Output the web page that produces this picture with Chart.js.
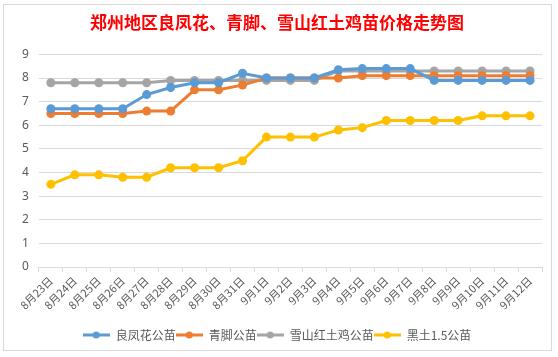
<!DOCTYPE html>
<html><head><meta charset="utf-8">
<script src="https://cdn.jsdelivr.net/npm/chart.js@4.4.1/dist/chart.umd.min.js"></script>
<style>
html,body{margin:0;padding:0;background:#fff;}
#wrap{position:absolute;left:0;top:0;width:558px;height:357px;}
#frame{position:absolute;left:3px;top:4px;width:549px;height:347px;border:1px solid #d9d9d9;box-sizing:border-box;pointer-events:none;}
</style></head>
<body>
<div id="wrap"><canvas id="c" width="558" height="357"></canvas></div>
<div id="frame"></div>
<script>
const categories = ["8月23日","8月24日","8月25日","8月26日","8月27日","8月28日","8月29日","8月30日","8月31日","9月1日","9月2日","9月3日","9月4日","9月5日","9月6日","9月7日","9月8日","9月9日","9月10日","9月11日","9月12日"];
const lianghengValues = [6.7,6.7,6.7,6.7,7.3,7.6,7.8,7.8,8.2,8.0,8.0,8.0,8.35,8.4,8.4,8.4,7.9,7.9,7.9,7.9,7.9];
const qingjiaoValues  = [6.5,6.5,6.5,6.5,6.6,6.6,7.5,7.5,7.7,8.0,8.0,8.0,8.0,8.1,8.1,8.1,8.1,8.1,8.1,8.1,8.1];
const xueshanValues   = [7.8,7.8,7.8,7.8,7.8,7.9,7.9,7.9,7.9,7.9,7.9,7.9,8.3,8.3,8.3,8.3,8.3,8.3,8.3,8.3,8.3];
const heituValues     = [3.5,3.9,3.9,3.8,3.8,4.2,4.2,4.2,4.5,5.5,5.5,5.5,5.8,5.9,6.2,6.2,6.2,6.2,6.4,6.4,6.4];
const seriesNames = ["良凤花公苗","青脚公苗","雪山红土鸡公苗","黑土1.5公苗"];
const seriesColors = ["#5B9BD5","#ED7D31","#A5A5A5","#FFC000"];
const yTicks = [0,1,2,3,4,5,6,7,8,9];
const titleText = "郑州地区良凤花、青脚、雪山红土鸡苗价格走势图";

function legendIcon(color){
  const cv = document.createElement('canvas');
  cv.width = 27; cv.height = 10;
  const g = cv.getContext('2d');
  g.strokeStyle = color; g.lineWidth = 3;
  g.beginPath(); g.moveTo(0,5); g.lineTo(27,5); g.stroke();
  g.fillStyle = color;
  g.beginPath(); g.arc(13.5,5,3.5,0,Math.PI*2); g.fill();
  return cv;
}

const allValues = [lianghengValues,qingjiaoValues,xueshanValues,heituValues];
const datasets = allValues.map((vals,i)=>({
  label: seriesNames[i],
  data: vals,
  borderColor: seriesColors[i],
  backgroundColor: seriesColors[i],
  borderWidth: 3,
  pointRadius: 4.5,
  pointHoverRadius: 4.5,
  pointBorderWidth: 0,
  tension: 0,
  fill: false
}));

new Chart(document.getElementById('c'), {
  type: 'line',
  data: { labels: categories, datasets: datasets },
  options: {
    responsive: false,
    animation: false,
    devicePixelRatio: 1,
    layout: { padding: { left: 12, right: 16, top: 6, bottom: 6 } },
    plugins: {
      title: {
        display: true,
        text: titleText,
        color: '#FF0000',
        font: { family: '"Noto Sans CJK SC", sans-serif', size: 17, weight: 'bold' },
        padding: { top: 6, bottom: 22 }
      },
      legend: {
        position: 'bottom',
        labels: {
          color: '#595959',
          font: { family: '"Noto Sans CJK SC", sans-serif', size: 12 },
          usePointStyle: true,
          pointStyleWidth: 27,
          boxHeight: 12,
          padding: 0,
          generateLabels: (chart) => chart.data.datasets.map((ds,i)=>({
            text: ds.label,
            fillStyle: ds.borderColor,
            strokeStyle: ds.borderColor,
            fontColor: '#595959',
            pointStyle: legendIcon(ds.borderColor),
            datasetIndex: i,
            hidden: false,
            lineWidth: 0
          }))
        }
      },
      tooltip: { enabled: false }
    },
    scales: {
      x: {
        offset: true,
        afterFit: (s) => { s.height = 62; },
        grid: { display: true, drawOnChartArea: false, drawTicks: true, tickLength: 5, color: '#d9d9d9', offset: true },
        border: { display: true, color: '#d9d9d9', width: 1 },
        ticks: {
          color: '#595959',
          font: { family: '"Noto Sans CJK SC", sans-serif', size: 11 },
          maxRotation: 45, minRotation: 45, autoSkip: false, padding: 2
        }
      },
      y: {
        min: 0, max: 9,
        afterBuildTicks: (axis) => { axis.ticks = yTicks.map(v=>({value:v})); },
        grid: { color: '#d9d9d9', drawTicks: false, lineWidth: 1 },
        border: { display: false },
        ticks: {
          color: '#595959',
          font: { family: '"Noto Sans", sans-serif', size: 12 },
          padding: 10
        }
      }
    }
  }
});
</script>
</body></html>
